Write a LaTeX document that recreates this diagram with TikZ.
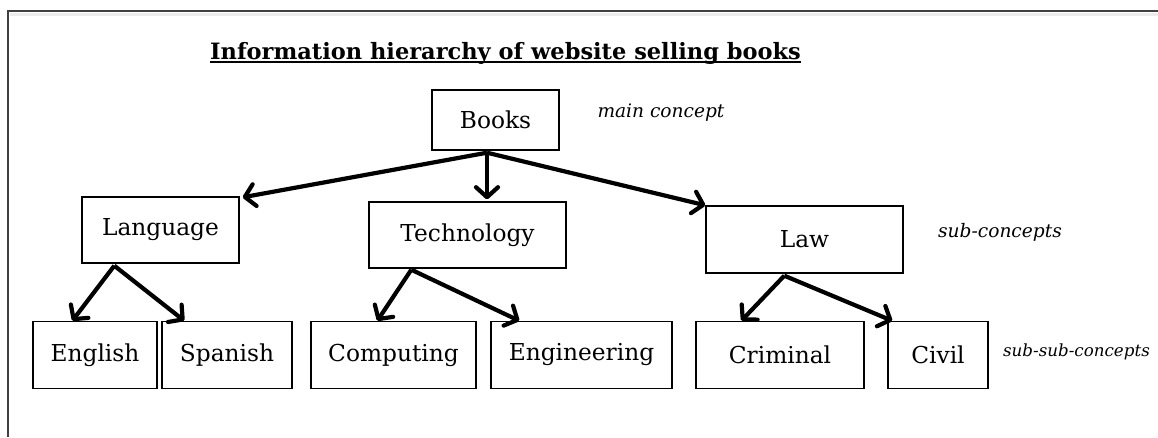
\documentclass[tikz,border=0pt]{standalone}
\usepackage{fontspec}
\setmainfont{DejaVu Serif}
\usetikzlibrary{arrows.meta}

\begin{document}
\begin{tikzpicture}[x=1pt,y=-1pt,
		concept/.style={draw=black,line width=1.4pt,minimum height=66pt,inner sep=0pt,font=\fontsize{23.3}{27}\selectfont},
		level/.style={font=\fontsize{18.6}{22}\selectfont\itshape},
		link/.style={line width=4.2pt,-{Straight Barb[length=10pt,width=22pt,round]}}]
	\useasboundingbox (0,0) rectangle (1158,437);
	
	% frame of the page
	\draw[gray!15,line width=3pt] (10,14.5) -- (1158,14.5);
	\draw[black!75,line width=1.5pt] (1158,11) -- (8,11) -- (8,437);
	
	\node[anchor=base,inner sep=0pt,font=\fontsize{22.5}{26}\selectfont\bfseries] (title) at (505.5,59) {Information hierarchy of website selling books};
	\draw[line width=1.6pt] ([yshift=-3pt]title.base west) -- ([yshift=-3pt]title.base east);
	
	% main concept
	\node[concept,minimum width=127pt,minimum height=60pt] (books) at (495.5,120) {Books};
	
	% sub-concepts
	\node[concept,minimum width=157pt] (lang) at (160.5,230) {Language};
	\node[concept,minimum width=197pt] (tech) at (467.5,235) {Technology};
	\node[concept,minimum width=197pt,minimum height=67pt] (law) at (804.5,239.5) {Law};
	
	% sub-sub-concepts
	\node[concept,minimum width=124pt,minimum height=67pt] (english) at (95,355) {English};
	\node[concept,minimum width=130pt,minimum height=67pt] (spanish) at (227,355) {Spanish};
	\node[concept,minimum width=165pt,minimum height=67pt] (computing) at (393.5,355) {Computing};
	\node[concept,minimum width=181pt,minimum height=67pt] (engineering) at (581.5,355) {Engineering};
	\node[concept,minimum width=168pt,minimum height=67pt] (criminal) at (780,355) {Criminal};
	\node[concept,minimum width=100pt,minimum height=67pt] (civil) at (938,355) {Civil};
	
	\node[level] (l1) at (661,113) {main concept};
	\node[level] (l2) at (1000,232) {sub-concepts};
	\node[level,font=\fontsize{16.7}{20}\selectfont\itshape] (l3) at (1076.5,352) {sub-sub-concepts};
	
	\draw[link] ([xshift=-8.5pt,yshift=-2pt]books.south) -- ([xshift=3pt,yshift=-1pt]lang.north east);
	\draw[link] ([xshift=-8.5pt,yshift=-2pt]books.south) -- ([xshift=19.5pt,yshift=2pt]tech.north);
	\draw[link] ([xshift=-8.5pt,yshift=-2pt]books.south) -- (law.north west);
	
	\draw[link] ([xshift=33pt,yshift=-2pt]lang.south west) -- ([xshift=40pt]english.north west);
	\draw[link] ([xshift=33pt,yshift=-2pt]lang.south west) -- ([xshift=23pt]spanish.north west);
	
	\draw[link] ([xshift=43pt,yshift=-1pt]tech.south west) -- ([xshift=67pt]computing.north west);
	\draw[link] ([xshift=43pt,yshift=-1pt]tech.south west) -- ([xshift=29pt]engineering.north west);
	
	\draw[link] ([xshift=79pt,yshift=-2pt]law.south west) -- ([xshift=46pt]criminal.north west);
	\draw[link] ([xshift=79pt,yshift=-2pt]law.south west) -- ([xshift=5pt]civil.north west);
\end{tikzpicture}
\end{document}
